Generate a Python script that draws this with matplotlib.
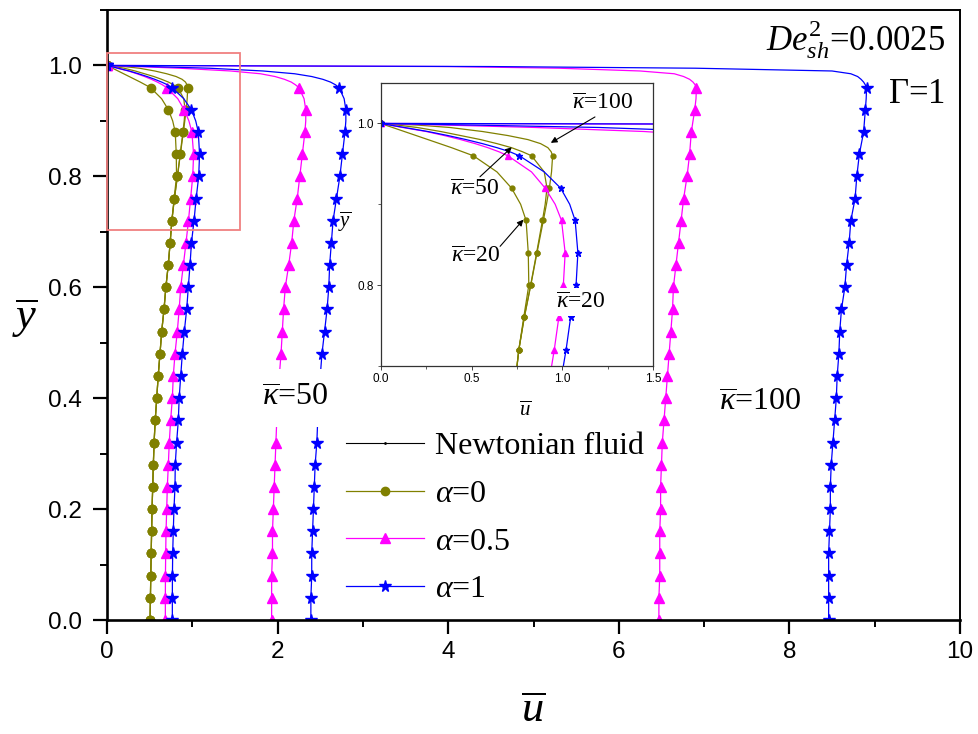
import matplotlib
matplotlib.use('Agg')
import matplotlib.pyplot as plt
from matplotlib.lines import Line2D
from matplotlib.patches import Rectangle
from matplotlib.ticker import MultipleLocator, FormatStrFormatter

plt.rcParams['font.family'] = ['Liberation Sans', 'DejaVu Sans']
plt.rcParams['mathtext.fontset'] = 'custom'
plt.rcParams['mathtext.rm'] = 'Liberation Serif'
plt.rcParams['mathtext.it'] = 'Liberation Serif:italic'
plt.rcParams['mathtext.bf'] = 'Liberation Serif:bold'

SERIF = ['Liberation Serif', 'DejaVu Serif']

# wall-normal coordinate (same sampling for every profile)
y = [1.0, 0.998, 0.995, 0.99, 0.985, 0.98, 0.975, 0.97, 0.965, 0.96,
     0.94, 0.92, 0.90, 0.88,
     0.84, 0.80, 0.76, 0.72, 0.68, 0.64, 0.60, 0.56, 0.52, 0.48, 0.44,
     0.40, 0.36, 0.32, 0.28, 0.24, 0.20, 0.16, 0.12, 0.08, 0.04, 0.0]

# alpha = 0 (olive)
u_a0_k20 = [0, 0.025, 0.065, 0.13, 0.195, 0.26, 0.325, 0.39, 0.45, 0.51,
            0.64, 0.72, 0.77, 0.80,
            0.812, 0.815, 0.787, 0.76, 0.74, 0.718, 0.69, 0.668, 0.641, 0.621, 0.60,
            0.583, 0.565, 0.552, 0.543, 0.536, 0.528, 0.523, 0.518, 0.513, 0.509, 0.505]
u_a0_k50 = [0, 0.09, 0.2, 0.33, 0.44, 0.55, 0.64, 0.72, 0.78, 0.83,
            0.90, 0.915, 0.905, 0.89,
            0.858, 0.825, 0.79, 0.76, 0.74, 0.718, 0.69, 0.668, 0.641, 0.621, 0.60,
            0.583, 0.565, 0.552, 0.543, 0.536, 0.528, 0.523, 0.518, 0.513, 0.509, 0.505]
u_a0_k100 = [0, 0.2, 0.38, 0.56, 0.70, 0.81, 0.88, 0.92, 0.938, 0.946,
             0.94, 0.928, 0.912, 0.895,
             0.86, 0.826, 0.79, 0.76, 0.74, 0.718, 0.69, 0.668, 0.641, 0.621, 0.60,
             0.583, 0.565, 0.552, 0.543, 0.536, 0.528, 0.523, 0.518, 0.513, 0.509, 0.505]

# alpha = 0.5 (magenta)
u_a05_k20 = [0, 0.05, 0.12, 0.25, 0.35, 0.44, 0.52, 0.59, 0.65, 0.70,
             0.83, 0.905, 0.96, 0.995,
             1.015, 1.005, 0.98, 0.955, 0.926, 0.895, 0.864, 0.846, 0.824, 0.797, 0.777,
             0.766, 0.746, 0.73, 0.719, 0.707, 0.70, 0.692, 0.688, 0.685, 0.684, 0.684]
u_a05_k50 = [0, 0.35, 0.85, 1.45, 1.8, 1.97, 2.08, 2.16, 2.21, 2.25,
             2.31, 2.33, 2.33, 2.32,
             2.29, 2.26, 2.23, 2.19, 2.165, 2.13, 2.09, 2.07, 2.055, 2.04, 2.02,
             2.00, 1.99, 1.98, 1.97, 1.96, 1.95, 1.94, 1.94, 1.93, 1.93, 1.93]
u_a05_k100 = [0, 4.0, 5.3, 6.25, 6.65, 6.76, 6.83, 6.87, 6.895, 6.91,
              6.905, 6.89, 6.87, 6.85,
              6.83, 6.80, 6.76, 6.73, 6.70, 6.67, 6.64, 6.63, 6.61, 6.59, 6.57,
              6.55, 6.53, 6.51, 6.50, 6.49, 6.49, 6.48, 6.48, 6.48, 6.47, 6.47]

# alpha = 1 (blue)
u_a1_k20 = [0, 0.05, 0.13, 0.26, 0.37, 0.47, 0.56, 0.64, 0.71, 0.763,
            0.90, 0.99, 1.04, 1.07,
            1.085, 1.075, 1.045, 1.02, 0.99, 0.973, 0.953, 0.934, 0.906, 0.883, 0.864,
            0.846, 0.836, 0.816, 0.80, 0.797, 0.785, 0.777, 0.77, 0.767, 0.766, 0.766]
u_a1_k50 = [0, 0.5, 1.2, 1.83, 2.2, 2.4, 2.53, 2.62, 2.68, 2.72,
            2.78, 2.80, 2.80, 2.79,
            2.76, 2.73, 2.69, 2.65, 2.63, 2.61, 2.60, 2.58, 2.55, 2.52, 2.50,
            2.48, 2.47, 2.46, 2.44, 2.43, 2.42, 2.41, 2.40, 2.40, 2.39, 2.39]
u_a1_k100 = [0, 4.5, 6.9, 8.5, 8.72, 8.8, 8.84, 8.87, 8.89, 8.905,
             8.90, 8.89, 8.88, 8.87,
             8.82, 8.79, 8.77, 8.72, 8.70, 8.67, 8.65, 8.61, 8.59, 8.58, 8.56,
             8.55, 8.53, 8.51, 8.49, 8.48, 8.48, 8.47, 8.46, 8.46, 8.46, 8.46]

# markers only every 0.04 in y
mark_idx = [i for i, v in enumerate(y) if abs(v / 0.04 - round(v / 0.04)) < 1e-6]

styles = {
    'a0': dict(color='#808000', marker='o'),
    'a05': dict(color='#ff00ff', marker='^'),
    'a1': dict(color='#0000ff', marker='*'),
}
main_ms = {'a0': 6, 'a05': 6.5, 'a1': 8.5}
inset_ms = {'a0': 3.5, 'a05': 4, 'a1': 5}

curves = [
    ('a0', u_a0_k20), ('a0', u_a0_k50), ('a0', u_a0_k100),
    ('a05', u_a05_k20), ('a05', u_a05_k50), ('a05', u_a05_k100),
    ('a1', u_a1_k20), ('a1', u_a1_k50), ('a1', u_a1_k100),
]

KAPPA = r'$\overline{\kappa}$'

fig = plt.figure(figsize=(9.79, 7.34), dpi=100)
ax = fig.add_axes([0.1093, 0.1553, 0.8713, 0.8311])

for key, u in curves:
    st = styles[key]
    ax.plot(u, y, color=st['color'], marker=st['marker'], ms=main_ms[key],
            mec=st['color'], mfc=st['color'], lw=0.9, markevery=mark_idx, zorder=2)

ax.set_xlim(0, 10)
ax.set_ylim(0, 1.1)
ax.xaxis.set_major_locator(MultipleLocator(2))
ax.xaxis.set_minor_locator(MultipleLocator(1))
ax.yaxis.set_major_locator(MultipleLocator(0.2))
ax.yaxis.set_minor_locator(MultipleLocator(0.1))
ax.yaxis.set_major_formatter(FormatStrFormatter('%.1f'))
ax.set_yticks([0, 0.2, 0.4, 0.6, 0.8, 1.0])
ax.tick_params(which='major', direction='out', length=10, width=1.6, labelsize=17.5)
ax.tick_params(which='minor', direction='out', length=5, width=1.4)
ax.tick_params(axis='x', pad=5)
ax.tick_params(axis='y', pad=8)
ax.tick_params(top=False, right=False, which='both')
for side in ['left', 'bottom']:
    ax.spines[side].set_linewidth(1.9)
for side in ['top', 'right']:
    ax.spines[side].set_linewidth(1.4)

ax.text(0.5, -0.15, r'$\overline{u}$', transform=ax.transAxes, ha='center', va='center',
        fontsize=32, family=SERIF)
ax.text(-0.096, 0.495, r'$\overline{y}$', transform=ax.transAxes, ha='center', va='center',
        fontsize=32, family=SERIF)

ax.text(9.82, 1.027, r'$De_{sh}^{\mathrm{2}}$=0.0025', ha='right', va='baseline',
        fontsize=25, family=SERIF)
ax.text(9.82, 0.932, r'$\mathrm{\Gamma}$=1', ha='right', va='baseline',
        fontsize=25, family=SERIF)

ax.text(2.2, 0.40, KAPPA + '=50', ha='center', va='center', fontsize=23,
        family=SERIF, zorder=4,
        bbox=dict(boxstyle='square,pad=0.45', fc='white', ec='none'))
ax.text(7.66, 0.391, KAPPA + '=100', ha='center', va='center', fontsize=23,
        family=SERIF, zorder=4)

ax.add_patch(Rectangle((0, 0.704), 1.56, 0.318, fill=False, ec='#f08080', lw=1.3,
                       zorder=3, clip_on=False))

handles = [Line2D([], [], color='black', lw=0.8, marker='.', ms=2)]
labels = ['Newtonian fluid']
for key, lab in [('a0', r'$\alpha$=0'), ('a05', r'$\alpha$=0.5'), ('a1', r'$\alpha$=1')]:
    st = styles[key]
    handles.append(Line2D([], [], color=st['color'], marker=st['marker'], ms=main_ms[key],
                          mec=st['color'], mfc=st['color'], lw=0.9))
    labels.append(lab)
ax.legend(handles, labels, loc='upper left', bbox_to_anchor=(346 / 979, (734 - 432) / 734),
          bbox_transform=fig.transFigure, frameon=False, prop={'family': SERIF, 'size': 23},
          handlelength=2.45, handletextpad=0.35, labelspacing=0.57, borderpad=0,
          borderaxespad=0, numpoints=1)

# inset
ax_in = fig.add_axes([380.7 / 979, (734 - 366) / 734, 272.6 / 979, 283 / 734])
ax_in.set_facecolor('white')
for key, u in curves:
    st = styles[key]
    ax_in.plot(u, y, color=st['color'], marker=st['marker'], ms=inset_ms[key],
               mec=st['color'], mfc=st['color'], lw=0.9, markevery=mark_idx)
ax_in.set_xlim(0, 1.5)
ax_in.set_ylim(0.7, 1.05)
ax_in.set_xticks([0, 0.5, 1.0, 1.5])
ax_in.set_xticklabels(['0.0', '0.5', '1.0', '1.5'])
ax_in.xaxis.set_minor_locator(MultipleLocator(0.25))
ax_in.set_yticks([0.8, 1.0])
ax_in.set_yticklabels(['0.8', '1.0'])
ax_in.yaxis.set_minor_locator(MultipleLocator(0.1))
ax_in.tick_params(which='major', direction='out', length=3, width=0.7, labelsize=8.5,
                  pad=2, color='#444444')
ax_in.tick_params(which='minor', direction='out', length=2, width=0.6, color='#444444')
for sp in ax_in.spines.values():
    sp.set_linewidth(0.9)
    sp.set_color('#333333')

ax_in.text(0.529, -0.159, r'$\overline{u}$', transform=ax_in.transAxes, ha='center',
           va='center', fontsize=15, family=SERIF)
ax_in.text(-0.131, 0.509, r'$\overline{y}$', transform=ax_in.transAxes, ha='center',
           va='center', fontsize=15, family=SERIF)

arrow = dict(arrowstyle='-|>', color='black', lw=0.8, mutation_scale=9,
             shrinkA=0, shrinkB=0)
ax_in.text(1.223, 1.025, KAPPA + '=100', ha='center', va='center', fontsize=17,
           family=SERIF)
ax_in.annotate('', xy=(0.936, 0.976), xytext=(1.179, 1.008), arrowprops=arrow)
ax_in.text(0.519, 0.918, KAPPA + '=50', ha='center', va='center', fontsize=17,
           family=SERIF)
ax_in.annotate('', xy=(0.721, 0.9705), xytext=(0.546, 0.934), arrowprops=arrow)
ax_in.text(0.524, 0.836, KAPPA + '=20', ha='center', va='center', fontsize=17,
           family=SERIF)
ax_in.annotate('', xy=(0.785, 0.881), xytext=(0.657, 0.848), arrowprops=arrow)
ax_in.text(1.102, 0.779, KAPPA + '=20', ha='center', va='center', fontsize=17,
           family=SERIF, zorder=4,
           bbox=dict(boxstyle='square,pad=0.15', fc='white', ec='none'))

fig.savefig('out.png', dpi=100)
